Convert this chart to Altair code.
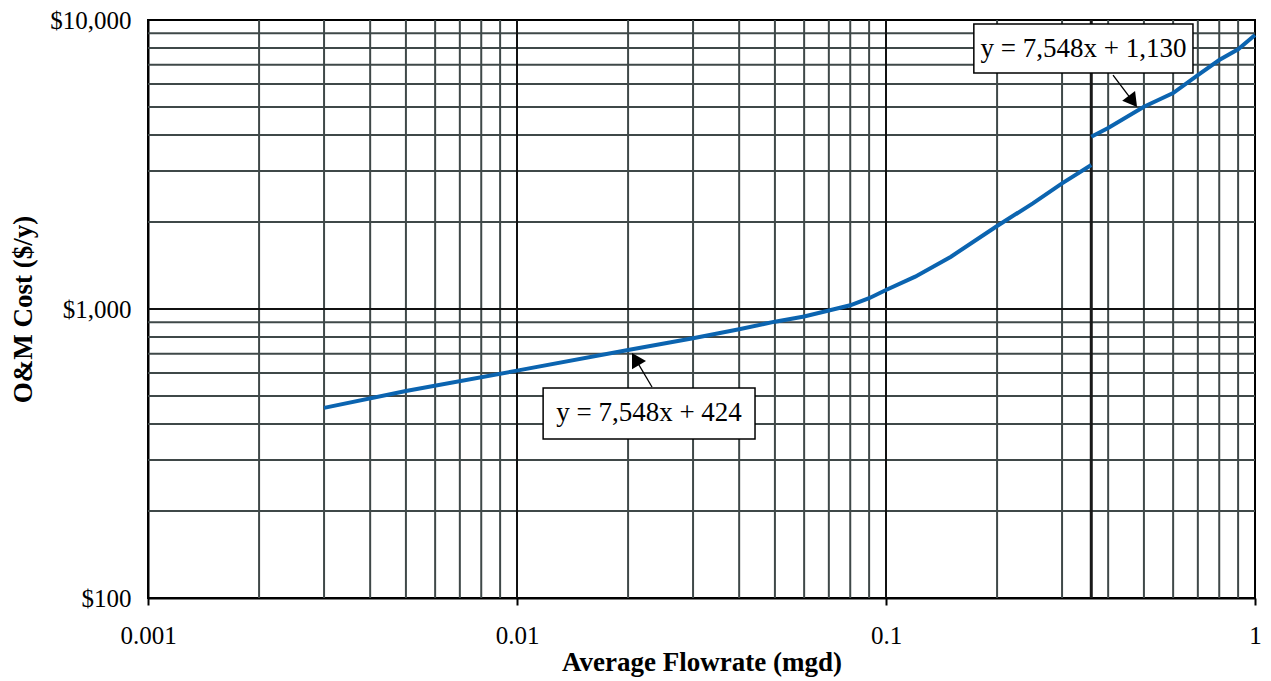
import altair as alt
import pandas as pd

# ---- data ----
x_low = [0.003, 0.005, 0.01, 0.02, 0.03, 0.04, 0.05, 0.06, 0.07, 0.08, 0.09, 0.1,
         0.12, 0.15, 0.2, 0.25, 0.3, 0.36]
y_low = [455, 520, 612, 721, 792, 851, 904, 942, 988, 1030, 1090, 1163,
         1294, 1517, 1937, 2321, 2722, 3150]
x_up = [0.36, 0.4, 0.5, 0.6, 0.7, 0.8, 0.9, 1.0]
y_up = [3947, 4230, 5012, 5585, 6450, 7270, 7920, 8870]

x_minor = [0.002, 0.003, 0.004, 0.005, 0.006, 0.007, 0.008, 0.009,
           0.02, 0.03, 0.04, 0.05, 0.06, 0.07, 0.08, 0.09,
           0.2, 0.3, 0.4, 0.5, 0.6, 0.7, 0.8, 0.9]
x_major = [0.01, 0.1]
y_minor = [200, 300, 400, 500, 600, 700, 800, 900,
           2000, 3000, 4000, 5000, 6000, 7000, 8000, 9000]
y_major = [1000]
x_break = [0.36]

x_ticks = [0.001, 0.01, 0.1, 1]
y_ticks = [100, 1000, 10000]

ann_text = ["y = 7,548x + 1,130", "y = 7,548x + 424"]
ann_x = [0.3428, 0.02279]
ann_y = [7967, 435]
box_x = [0.173, 0.01177]
box_x2 = [0.679, 0.04416]
box_y = [9690, 533]
box_y2 = [6556, 355]
arrow_x = [0.4123, 0.02322]
arrow_y = [6451, 537]
head_x = [0.4666, 0.02095]
head_y = [5228, 671]
head_angle = [143, 330]

FONT = "Liberation Serif"
BLUE = "#0b64b0"

xs = alt.Scale(type="log", domain=[0.001, 1])
ys = alt.Scale(type="log", domain=[100, 10000])

AX = alt.Axis(values=x_ticks, format="~g", grid=False, ticks=True, tickSize=7,
              tickColor="black", tickWidth=2, domainColor="black", domainWidth=2,
              labelFont=FONT, labelFontSize=25, labelColor="black", labelPadding=18,
              labelFlush=False,
              title="Average Flowrate (mgd)", titleFont=FONT, titleFontSize=27,
              titleFontWeight="bold", titleColor="black", titlePadding=1)
AY = alt.Axis(values=y_ticks, labelExpr='"$" + format(datum.value, ",")', grid=False,
              ticks=False, domainColor="black", domainWidth=2,
              labelFont=FONT, labelFontSize=25, labelColor="black", labelPadding=17,
              labelFlush=False,
              title="O&M Cost ($/y)", titleFont=FONT, titleFontSize=27,
              titleFontWeight="bold", titleColor="black", titlePadding=12)

X = lambda: alt.X("x:Q", scale=xs, axis=AX)
Y = lambda: alt.Y("y:Q", scale=ys, axis=AY)

line_df = pd.DataFrame({
    "x": x_low + x_up,
    "y": y_low + y_up,
    "seg": ["low"] * len(x_low) + ["up"] * len(x_up),
})

vminor = alt.Chart(pd.DataFrame({"x": x_minor})).mark_rule(color="#3f4848", strokeWidth=2).encode(x=X())
vmajor = alt.Chart(pd.DataFrame({"x": x_major})).mark_rule(color="#111111", strokeWidth=2).encode(x=X())
hminor = alt.Chart(pd.DataFrame({"y": y_minor})).mark_rule(color="#3f4848", strokeWidth=2).encode(y=Y())
hmajor = alt.Chart(pd.DataFrame({"y": y_major})).mark_rule(color="#111111", strokeWidth=2).encode(y=Y())
vbreak = alt.Chart(pd.DataFrame({"x": x_break})).mark_rule(color="#1a1a1a", strokeWidth=3).encode(x=X())

lines = alt.Chart(line_df).mark_line(color=BLUE, strokeWidth=4).encode(
    x=X(), y=Y(), detail="seg:N")

arrow_df = pd.DataFrame({"x": arrow_x, "y": arrow_y, "x2": head_x, "y2": head_y})
arrows = alt.Chart(arrow_df).mark_rule(color="black", strokeWidth=1.3).encode(
    x=X(), y=Y(), x2="x2:Q", y2="y2:Q")

head_df = pd.DataFrame({"x": head_x, "y": head_y, "a": head_angle})
heads = alt.Chart(head_df).mark_point(shape="triangle-up", filled=True, color="black",
                                       size=260, opacity=1).encode(
    x=X(), y=Y(), angle=alt.Angle("a:Q", scale=None))

box_df = pd.DataFrame({"x": box_x, "x2": box_x2, "y": box_y, "y2": box_y2})
boxes = alt.Chart(box_df).mark_rect(fill="white", stroke="black", strokeWidth=1.5).encode(
    x=X(), y=Y(), x2="x2:Q", y2="y2:Q")

text_df = pd.DataFrame({"x": ann_x, "y": ann_y, "t": ann_text})
texts = alt.Chart(text_df).mark_text(font=FONT, fontSize=27, color="black",
                                      align="center", baseline="middle").encode(
    x=X(), y=Y(), text="t:N")

chart = alt.layer(
    vminor, hminor, vmajor, hmajor, vbreak, lines, arrows, heads, boxes, texts
).properties(
    width=1107, height=578,
    padding={"left": 140, "top": 12, "right": 6, "bottom": 82},
    autosize=alt.AutoSizeParams(type="none"),
    background="white",
).configure_view(stroke="black", strokeWidth=2)

chart.save("out.html", embed_options={"renderer": "svg", "actions": False})
